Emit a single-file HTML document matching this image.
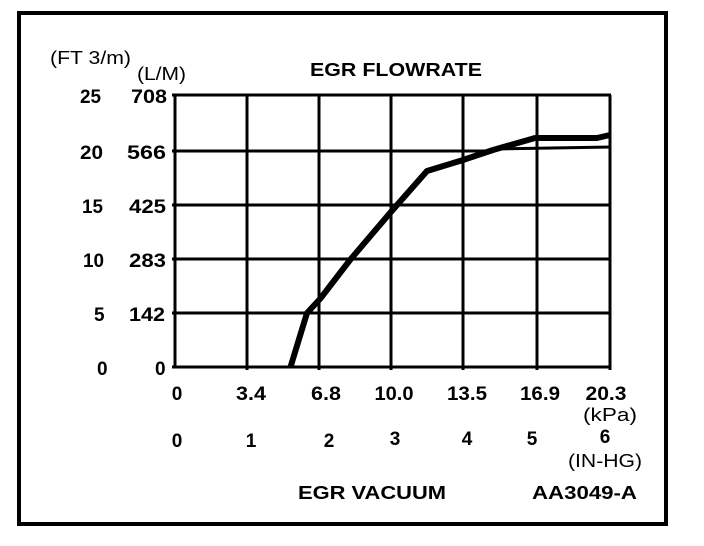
<!DOCTYPE html>
<html><head><meta charset="utf-8"><style>
html,body{margin:0;padding:0;background:#fff;}
svg{display:block;}
text{font-family:"Liberation Sans",Arial,sans-serif;fill:#000;}
.n{font-size:19px;font-weight:bold;}
.u{font-size:18px;}
.b{font-size:18px;font-weight:bold;}
</style></head><body>
<svg width="704" height="546" viewBox="0 0 704 546" xmlns="http://www.w3.org/2000/svg">
<rect x="19" y="13" width="647" height="511" fill="none" stroke="#000" stroke-width="4"/>
<g stroke="#000" stroke-width="3" fill="none">
<line x1="175" y1="95" x2="175" y2="368"/>
<line x1="247" y1="95" x2="247" y2="370"/>
<line x1="319" y1="95" x2="319" y2="370"/>
<line x1="391" y1="95" x2="391" y2="370"/>
<line x1="463" y1="95" x2="463" y2="370"/>
<line x1="537" y1="95" x2="537" y2="370"/>
<line x1="610" y1="95" x2="610" y2="370"/>
<line x1="172" y1="95" x2="611" y2="95"/>
<line x1="172" y1="151" x2="493" y2="151"/>
<line x1="493" y1="149" x2="611" y2="147"/>
<line x1="172" y1="205" x2="611" y2="205"/>
<line x1="172" y1="259" x2="611" y2="259"/>
<line x1="172" y1="313" x2="611" y2="313"/>
<line x1="172" y1="367" x2="611" y2="367"/>
</g>
<polyline points="290.5,367 307,313 320,299 350,260 390,213 427,171 463,160 493,150 535,138 597,138 610,135" fill="none" stroke="#000" stroke-width="6" stroke-linejoin="round"/>
<text class="u" x="50" y="64" textLength="81" lengthAdjust="spacingAndGlyphs">(FT 3/m)</text>
<text class="u" x="137" y="80" textLength="49" lengthAdjust="spacingAndGlyphs">(L/M)</text>
<text class="b" x="310" y="76" textLength="172" lengthAdjust="spacingAndGlyphs">EGR FLOWRATE</text>
<g class="n">
<text x="80" y="103" textLength="21" lengthAdjust="spacingAndGlyphs">25</text><text x="131" y="103" textLength="36" lengthAdjust="spacingAndGlyphs">708</text>
<text x="80" y="159" textLength="23" lengthAdjust="spacingAndGlyphs">20</text><text x="127" y="159" textLength="39" lengthAdjust="spacingAndGlyphs">566</text>
<text x="82" y="213" textLength="21" lengthAdjust="spacingAndGlyphs">15</text><text x="129" y="213" textLength="37" lengthAdjust="spacingAndGlyphs">425</text>
<text x="83" y="267" textLength="21" lengthAdjust="spacingAndGlyphs">10</text><text x="129" y="267" textLength="37" lengthAdjust="spacingAndGlyphs">283</text>
<text x="94" y="321">5</text><text x="129" y="321" textLength="36" lengthAdjust="spacingAndGlyphs">142</text>
<text x="97" y="375">0</text><text x="155" y="375">0</text>
</g>
<g class="n" text-anchor="middle">
<text x="177" y="400">0</text><text x="251" y="400" textLength="30" lengthAdjust="spacingAndGlyphs">3.4</text><text x="326" y="400" textLength="30" lengthAdjust="spacingAndGlyphs">6.8</text>
<text x="394" y="400" textLength="39" lengthAdjust="spacingAndGlyphs">10.0</text><text x="467" y="400" textLength="40" lengthAdjust="spacingAndGlyphs">13.5</text><text x="540" y="400" textLength="40" lengthAdjust="spacingAndGlyphs">16.9</text>
<text x="606" y="400" textLength="41" lengthAdjust="spacingAndGlyphs">20.3</text>
<text x="177" y="447">0</text><text x="251" y="447">1</text><text x="329" y="447">2</text>
<text x="395" y="445">3</text><text x="467" y="445">4</text><text x="532" y="445">5</text>
<text x="605" y="443">6</text>
</g>
<text class="u" x="583" y="421" textLength="54" lengthAdjust="spacingAndGlyphs">(kPa)</text>
<text class="u" x="568" y="467" textLength="74" lengthAdjust="spacingAndGlyphs">(IN-HG)</text>
<text class="b" x="298" y="499" textLength="148" lengthAdjust="spacingAndGlyphs">EGR VACUUM</text>
<text class="b" x="532" y="499" textLength="105" lengthAdjust="spacingAndGlyphs">AA3049-A</text>
</svg>
</body></html>
